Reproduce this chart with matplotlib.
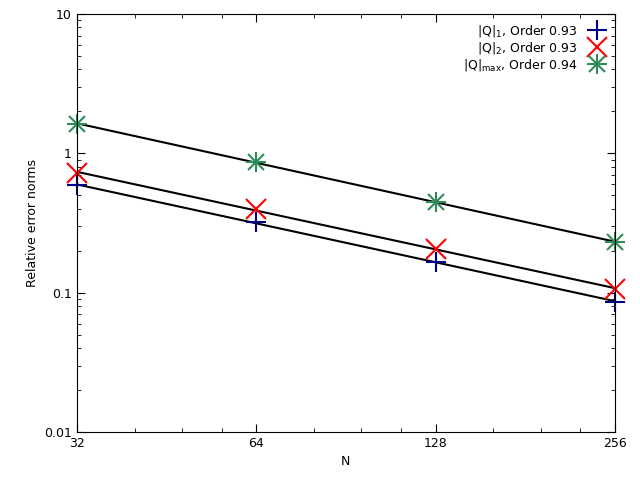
import matplotlib.pyplot as plt
import numpy as np
from matplotlib.ticker import FixedLocator, NullFormatter, LogLocator

N = [32, 64, 128, 256]
q1 = [0.59, 0.32, 0.166, 0.086]
q2 = [0.72, 0.40, 0.206, 0.106]
qmax = [1.62, 0.87, 0.447, 0.23]
labels = [r'$|\mathrm{Q}|_1$, Order 0.93', r'$|\mathrm{Q}|_2$, Order 0.93',
          r'$|\mathrm{Q}|_{\mathrm{max}}$, Order 0.94']

fig = plt.figure(figsize=(6.4, 4.8), dpi=100)
ax = fig.add_axes([0.12, 0.1, 0.841, 0.871])

x = np.array(N, dtype=float)
# least squares fit lines in log-log
for y in [q1, q2, qmax]:
    p = np.polyfit(np.log(x), np.log(y), 1)
    ax.plot(x, np.exp(np.polyval(p, np.log(x))), color='black', lw=1.5, zorder=1)

ms = 14
ax.plot(N, q1, ls='none', marker='+', color='#00008b', ms=ms, mew=1.5, label=labels[0], clip_on=False)
ax.plot(N, q2, ls='none', marker='x', color='red', ms=ms, mew=1.5, label=labels[1], clip_on=False)
h1, = ax.plot(N, qmax, ls='none', marker='+', color='#2e8b57', ms=ms, mew=1.5, clip_on=False)
h2, = ax.plot(N, qmax, ls='none', marker='x', color='#2e8b57', ms=ms * 0.8, mew=1.5, clip_on=False)

ax.set_xscale('log', base=2)
ax.set_yscale('log')
ax.set_xlim(32, 256)
ax.set_ylim(0.01, 10)
ax.xaxis.set_major_locator(FixedLocator(N))
ax.xaxis.set_minor_locator(FixedLocator([40, 48, 56, 80, 96, 112, 160, 192, 224]))
ax.xaxis.set_minor_formatter(NullFormatter())
ax.set_xticklabels(['32', '64', '128', '256'])
ax.set_yticks([0.01, 0.1, 1, 10])
ax.set_yticklabels(['0.01', '0.1', '1', '10'])
ax.yaxis.set_minor_locator(LogLocator(subs=np.arange(2, 10)))
ax.yaxis.set_minor_formatter(NullFormatter())
ax.tick_params(which='both', direction='in', top=True, right=True, labelsize=9)
ax.tick_params(which='major', length=6)
ax.tick_params(which='minor', length=3)
ax.set_xlabel('N', fontsize=9)
ax.set_ylabel('Relative error norms', fontsize=9)

handles, labs = ax.get_legend_handles_labels()
handles.append((h1, h2))
labs.append(labels[2])
ax.legend(handles, labs, loc='upper right', frameon=False, markerfirst=False,
          fontsize=9, handlelength=1.5, labelspacing=0.1, borderaxespad=0.3)

fig.savefig('out.png', dpi=100)
